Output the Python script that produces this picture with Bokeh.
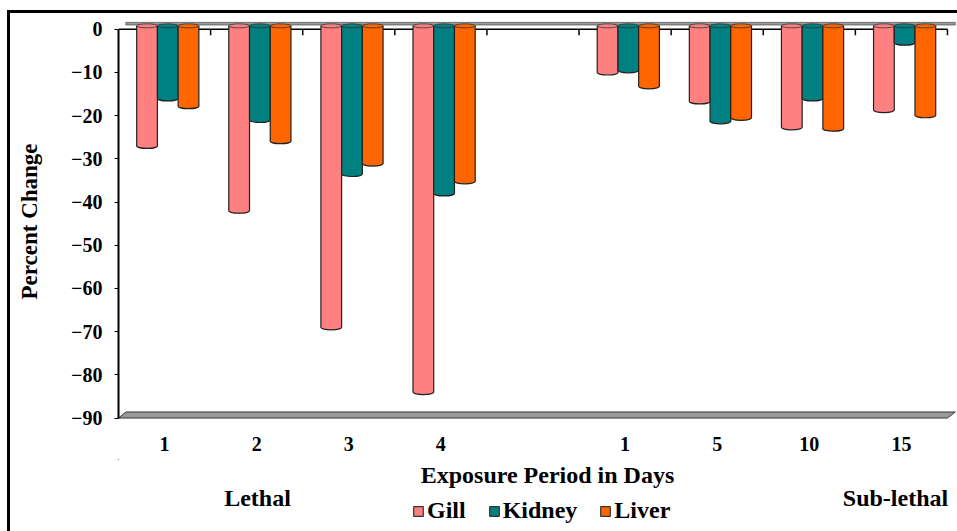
from bokeh.plotting import figure
from bokeh.layouts import column
from bokeh.models import (Range1d, FixedTicker, Label, Legend, LegendItem,
                          ColumnDataSource)
from bokeh.transform import dodge
from bokeh.embed import file_html
from bokeh.resources import INLINE

# ---- data ----
days = ["1", "2", "3", "4", "1", "5", "10", "15"]
phase = ["Lethal", "Lethal", "Lethal", "Lethal",
         "Sub-lethal", "Sub-lethal", "Sub-lethal", "Sub-lethal"]
gill = [-27.0, -42.0, -69.0, -84.0, -10.0, -16.7, -22.7, -18.7]
kidney = [-16.0, -21.0, -33.5, -38.0, -9.5, -21.3, -16.0, -3.1]
liver = [-17.8, -25.9, -31.1, -35.2, -13.2, -20.5, -23.0, -19.9]
y_ticks = [0, -10, -20, -30, -40, -50, -60, -70, -80, -90]
series_names = ["Gill", "Kidney", "Liver"]
series_colors = ["#FF8080", "#008080", "#FF6600"]

FONT = "Liberation Serif"
OFF_X, OFF_Y = 10, 13          # canvas offset inside the bordered box
W = 957 - OFF_X
H_MAIN = 446
H_FOOT = 531 - OFF_Y - H_MAIN
LEFT = 118 - OFF_X             # left border (frame start)

# slot centres: one empty slot separates the two phases
slots = []
for i, ph in enumerate(phase):
    slots.append(i + 0.5 + (1 if ph == "Sub-lethal" else 0))
n_slots = len(days) + 1

p = figure(width=W, height=H_MAIN, output_backend="svg", toolbar_location=None,
           x_range=Range1d(0, n_slots + 0.109), y_range=Range1d(-91.5, 2.5),
           min_border_left=LEFT, min_border_right=0, min_border_top=5,
           min_border_bottom=H_MAIN - 5 - 406)
p.outline_line_color = None
p.xgrid.grid_line_color = None
p.ygrid.grid_line_color = None
p.background_fill_color = "white"
p.border_fill_color = "white"

# ---- 3D floor and back-wall edge ----
p.patch(x=[0, n_slots, n_slots + 0.085, 0.08], y=[-90, -90, -88.6, -88.6],
        fill_color="#9a9a9a", line_color="#333333", line_width=1)
p.patch(x=[0.08, n_slots + 0.085, n_slots + 0.085, 0.08], y=[1.0, 1.0, 1.6, 1.6],
        fill_color="#9a9a9a", line_color="#555555", line_width=0.8)
# zero line with category tick marks
p.segment(x0=[0], y0=[0], x1=[n_slots], y1=[0], line_color="black", line_width=1.5)
bounds = list(range(1, n_slots + 1))
p.segment(x0=bounds, y0=[0] * len(bounds), x1=bounds, y1=[-1.4] * len(bounds),
          line_color="black", line_width=1.5)

# ---- cylinders ----
bw = 0.225
offsets = [-0.19, 0.035, 0.26]
TOP = 0.8
for vals, col, off in zip([gill, kidney, liver], series_colors, offsets):
    src = ColumnDataSource(dict(
        x=slots, v=vals, top=[TOP] * len(vals),
        xl=[s + off - bw / 2 for s in slots],
        xr=[s + off + bw / 2 for s in slots]))
    xd = dodge("x", off, range=p.x_range)
    p.ellipse(x=xd, y="v", width=bw, height=5, height_units="screen",
              fill_color=col, line_color="#222222", line_width=1.2, source=src)
    p.vbar(x=xd, top="top", bottom="v", width=bw, fill_color=col,
           line_color=None, source=src)
    p.segment(x0="xl", y0="top", x1="xl", y1="v", line_color="#222222",
              line_width=1.2, source=src)
    p.segment(x0="xr", y0="top", x1="xr", y1="v", line_color="#222222",
              line_width=1.2, source=src)
    p.ellipse(x=xd, y="top", width=bw, height=4, height_units="screen",
              fill_color=col, line_color="#333333", line_width=0.8, source=src)

# ---- axes ----
yax = p.yaxis[0]
yax.ticker = FixedTicker(ticks=y_ticks)
yax.bounds = (-90, 0)
yax.axis_line_width = 2
yax.axis_line_color = "black"
yax.major_tick_out = 4
yax.major_tick_in = 0
yax.minor_tick_out = 0
yax.minor_tick_in = 0
yax.major_label_standoff = 12
yax.major_label_text_font = FONT
yax.major_label_text_font_style = "bold"
yax.major_label_text_font_size = "20px"
yax.major_label_text_color = "black"
yax.axis_label = "Percent Change"
yax.axis_label_text_font = FONT
yax.axis_label_text_font_style = "bold"
yax.axis_label_text_font_size = "23px"
yax.axis_label_text_color = "black"
yax.axis_label_standoff = 26

xax = p.xaxis[0]
xax.ticker = FixedTicker(ticks=slots)
xax.major_label_overrides = {s: d for s, d in zip(slots, days)}
xax.axis_line_color = None
xax.major_tick_out = 0
xax.major_tick_in = 0
xax.minor_tick_out = 0
xax.minor_tick_in = 0
xax.major_label_standoff = 12
xax.major_label_text_font = FONT
xax.major_label_text_font_style = "bold"
xax.major_label_text_font_size = "20px"
xax.major_label_text_color = "black"

# ---- footer: axis title, phase names, legend (coordinates = window pixels) ----
f = figure(width=W, height=H_FOOT, output_backend="svg", toolbar_location=None,
           x_range=Range1d(118, 957), y_range=Range1d(531, 531 - H_FOOT),
           min_border_left=LEFT, min_border_right=0, min_border_top=0,
           min_border_bottom=0)
f.axis.visible = False
f.grid.grid_line_color = None
f.outline_line_color = None
f.background_fill_color = "white"
f.border_fill_color = "white"


def add_label(txt, x, y, size="24px"):
    f.add_layout(Label(x=x, y=y, text=txt, text_font=FONT,
                       text_font_style="bold", text_font_size=size,
                       text_align="center", text_baseline="middle",
                       text_color="black"))


add_label("Exposure Period in Days", 547, 474)
add_label("Lethal", 257, 497)
add_label("Sub-lethal", 895, 497)

items = []
for name, col in zip(series_names, series_colors):
    dummy = f.vbar(x=[-1000], top=[-1000], bottom=[-1001], width=1,
                   fill_color=col, line_color="#333333", line_width=1.2)
    items.append(LegendItem(label=name, renderers=[dummy]))

legend = Legend(items=items, orientation="horizontal",
                location=(412 - 118, 7),
                label_text_font=FONT, label_text_font_style="bold",
                label_text_font_size="24px", label_text_color="black",
                glyph_width=12, glyph_height=12,
                label_standoff=3, spacing=22, padding=0, margin=0,
                border_line_color=None, background_fill_alpha=0)
f.add_layout(legend)

layout = column(p, f, spacing=0, margin=(OFF_Y - 3, 0, 0, OFF_X - 3),
                styles={"border-left": "3px solid black",
                        "border-top": "3px solid black"})

open("out.html", "w").write(file_html(layout, INLINE))
